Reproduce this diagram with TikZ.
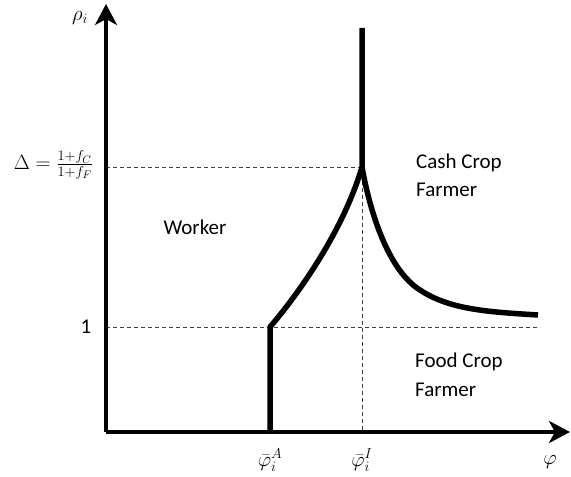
\documentclass[tikz,border=0pt]{standalone}
\usepackage{fontspec}
\setmainfont{Carlito}
\usetikzlibrary{arrows.meta}
\begin{document}
\begin{tikzpicture}[x=1pt,y=1pt,
  axis/.style={line width=3.8pt,-{Stealth[length=21pt,width=22pt,inset=6pt]}},
  bound/.style={line width=5.5pt,line join=round},
  guide/.style={line width=0.8pt,dash pattern=on 4pt off 3pt,black!75},
  lab/.style={inner sep=0pt,font=\fontsize{21}{25}\selectfont},
  mlab/.style={inner sep=0pt,font=\fontsize{21}{25}\selectfont}]
\useasboundingbox (0,0) rectangle (571,477);
% key points
\coordinate (O) at (106,45);
\coordinate (ytip) at (106,473);
\coordinate (xtip) at (570,45);
\coordinate (A0) at (270,45);
\coordinate (A1) at (270,150);
\coordinate (P) at (362,310);
\coordinate (Ptop) at (362,449);
\coordinate (Pbot) at (362,45);
\coordinate (M) at (420,187);
\coordinate (E) at (538,162);
\coordinate (D0) at (106,310);
\coordinate (U0) at (106,150);
\coordinate (U1) at (540,150);
% guides
\draw[guide] (D0) -- (P);
\draw[guide] (U0) -- (U1);
\draw[guide] (P) -- (Pbot);
% axes
\draw[axis] (O) -- (ytip);
\draw[axis] (O) -- (xtip);
% boundaries
\draw[bound] (A0) -- (A1) .. controls (305,191) and (345,252) .. (P) -- (Ptop);
\draw[bound] (P) .. controls (370,265) and (388,207) .. (M) .. controls (450,167) and (490,165) .. (E);
% labels
\node[mlab] (rho) at (80,459) {$\rho_i$};
\node[mlab,anchor=east] (delta) at (93,312) {$\Delta=\frac{1+f_C}{1+f_F}$};
\node[lab] (one) at (86,150) {1};
\node[mlab] (phiA) at (270,17) {$\bar{\varphi}_i^A$};
\node[mlab] (phiI) at (362,17) {$\bar{\varphi}_i^I$};
\node[mlab] (phi) at (550,15) {$\varphi$};
\node[lab] (worker) at (195,250) {Worker};
\node[lab,anchor=west] (cash1) at (416,314) {Cash Crop};
\node[lab,anchor=west] (cash2) at (416,287) {Farmer};
\node[lab,anchor=west] (food1) at (415,115) {Food Crop};
\node[lab,anchor=west] (food2) at (415,87) {Farmer};
\end{tikzpicture}
\end{document}
